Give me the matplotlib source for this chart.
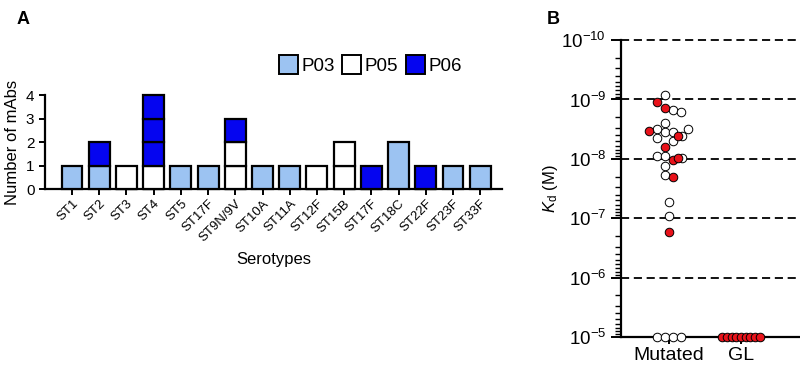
import numpy as np
import matplotlib
matplotlib.use('Agg')
import matplotlib.pyplot as plt
from matplotlib.patches import Patch
from matplotlib.ticker import LogLocator, NullFormatter


plt.rcParams['font.family'] = ['Liberation Sans', 'DejaVu Sans']
plt.rcParams['mathtext.fontset'] = 'custom'
plt.rcParams['mathtext.rm'] = 'Liberation Sans'
plt.rcParams['mathtext.it'] = 'Liberation Sans:italic'

# panel A data
serotypes = ['ST1', 'ST2', 'ST3', 'ST4', 'ST5', 'ST17F', 'ST9N/9V', 'ST10A',
             'ST11A', 'ST12F', 'ST15B', 'ST17F', 'ST18C', 'ST22F', 'ST23F', 'ST33F']
p03 = [1, 1, 0, 0, 1, 1, 0, 1, 1, 0, 0, 0, 2, 0, 1, 1]
p05 = [0, 0, 1, 1, 0, 0, 2, 0, 0, 1, 2, 0, 0, 0, 0, 0]
p06 = [0, 1, 0, 3, 0, 0, 1, 0, 0, 0, 0, 1, 0, 1, 0, 0]

# panel B data (Kd in M)
groups = ['Mutated', 'GL']
mut_white_kd = [8.3e-10, 1.5e-9, 1.6e-9, 2.5e-9, 3.2e-9, 3.6e-9, 3.5e-9, 3.2e-9,
                4.5e-9, 4.1e-9, 5.0e-9, 9.1e-9, 9.1e-9, 9.8e-9, 1.3e-8, 1.9e-8,
                5.4e-8, 9.1e-8, 1e-5, 1e-5, 1e-5, 1e-5]
mut_white_dx = [-0.05, 0.06, 0.17, -0.05, -0.16, -0.05, 0.06, 0.27,
                -0.16, 0.18, 0.06, -0.16, -0.05, 0.18, -0.05, -0.05,
                0.0, 0.0, -0.17, -0.06, 0.06, 0.17]
mut_red_kd = [1.12e-9, 1.41e-9, 3.4e-9, 4.1e-9, 6.2e-9, 1.05e-8, 9.8e-9, 2.0e-8, 1.7e-7]
mut_red_dx = [-0.16, -0.05, -0.27, 0.125, -0.05, 0.06, 0.125, 0.06, 0.0]
gl_kd = [1e-5] * 9
gl_dx = [-0.26, -0.195, -0.13, -0.065, 0.0, 0.065, 0.13, 0.195, 0.26]

C_P03 = '#9cc3f2'
C_P05 = 'white'
C_P06 = '#0505f0'
C_RED = '#e8121a'

fig = plt.figure(figsize=(8, 3.82), dpi=100)

# ---- panel A
ax = fig.add_axes([0.056, 0.505, 0.5715, 0.246])
x = np.arange(len(serotypes))
w = 0.77
bar_kw = dict(width=w, edgecolor='black', linewidth=1.6, clip_on=False, zorder=3)
bottom = np.zeros(len(serotypes))
ax.bar(x, p03, bottom=bottom, color=C_P03, **bar_kw)
bottom += np.array(p03)
# P05 and P06 drawn one mAb at a time
for vals, col in [(p05, C_P05), (p06, C_P06)]:
    for k in range(max(vals)):
        h = np.array([1 if v > k else 0 for v in vals])
        ax.bar(x[h > 0], h[h > 0], bottom=bottom[h > 0], color=col, **bar_kw)
        bottom += h

ax.set_xlim(-1.0, 15.8)
ax.set_ylim(0, 4)
ax.set_yticks([0, 1, 2, 3, 4])
ax.set_xticks(x)
ax.set_xticklabels(serotypes, rotation=45, ha='right', rotation_mode='anchor', fontsize=9.5)
ax.tick_params(axis='both', direction='out', width=1.4, length=4, labelsize=11)
ax.tick_params(axis='x', labelsize=9.5, pad=2)
for s in ['top', 'right']:
    ax.spines[s].set_visible(False)
for s in ['left', 'bottom']:
    ax.spines[s].set_linewidth(1.6)
ax.set_ylabel('Number of mAbs', fontsize=12, labelpad=4)
ax.set_xlabel('Serotypes', fontsize=12, labelpad=6)

handles = [Patch(facecolor=C_P03, edgecolor='black', linewidth=1.4, label='P03'),
           Patch(facecolor=C_P05, edgecolor='black', linewidth=1.4, label='P05'),
           Patch(facecolor=C_P06, edgecolor='black', linewidth=1.4, label='P06')]
fig.legend(handles=handles, loc='center', bbox_to_anchor=(0.463, 0.83), ncol=3,
           frameon=False, fontsize=13.5, handlelength=1.0, handleheight=1.2,
           handletextpad=0.2, columnspacing=0.4)

fig.text(0.021, 0.948, 'A', fontsize=13, fontweight='bold', va='center')
fig.text(0.684, 0.948, 'B', fontsize=13, fontweight='bold', va='center')

# ---- panel B
bx = fig.add_axes([0.776, 0.118, 0.224, 0.777])
bx.set_yscale('log')
bx.set_ylim(1e-5, 1e-10)
bx.set_xlim(-0.667, 1.82)
for e in range(-10, -5):
    bx.axhline(10.0 ** e, color='black', ls=(0, (4.5, 2.6)), lw=1.3, zorder=1, clip_on=False)

ms = 38
bx.scatter(np.array(mut_white_dx), mut_white_kd, s=ms, facecolor='white',
           edgecolor='black', linewidth=0.7, zorder=3, clip_on=False)
bx.scatter(np.array(mut_red_dx), mut_red_kd, s=ms, facecolor=C_RED,
           edgecolor='black', linewidth=0.7, zorder=4, clip_on=False)
bx.scatter(1 + np.array(gl_dx), gl_kd, s=ms, facecolor=C_RED,
           edgecolor='black', linewidth=0.7, zorder=4, clip_on=False)

bx.set_xticks([0, 1])
bx.set_xticklabels(groups, fontsize=14)
bx.set_yticks([10.0 ** e for e in range(-10, -4)])
bx.set_yticklabels([r'$10^{%d}$' % e for e in range(-10, -4)])
bx.yaxis.set_minor_locator(LogLocator(base=10, subs=np.arange(2, 10)))
bx.yaxis.set_minor_formatter(NullFormatter())
bx.tick_params(axis='y', which='major', direction='out', length=7, width=1.4, labelsize=13.5)
bx.tick_params(axis='y', which='minor', direction='out', length=4, width=1.0)
bx.tick_params(axis='x', direction='out', length=5, width=1.4, pad=2)
for s in ['top', 'right']:
    bx.spines[s].set_visible(False)
for s in ['left', 'bottom']:
    bx.spines[s].set_linewidth(1.6)
bx.set_ylabel(r'$K_\mathrm{d}$ (M)', fontsize=12, labelpad=1)

fig.savefig('out.png', dpi=100)
